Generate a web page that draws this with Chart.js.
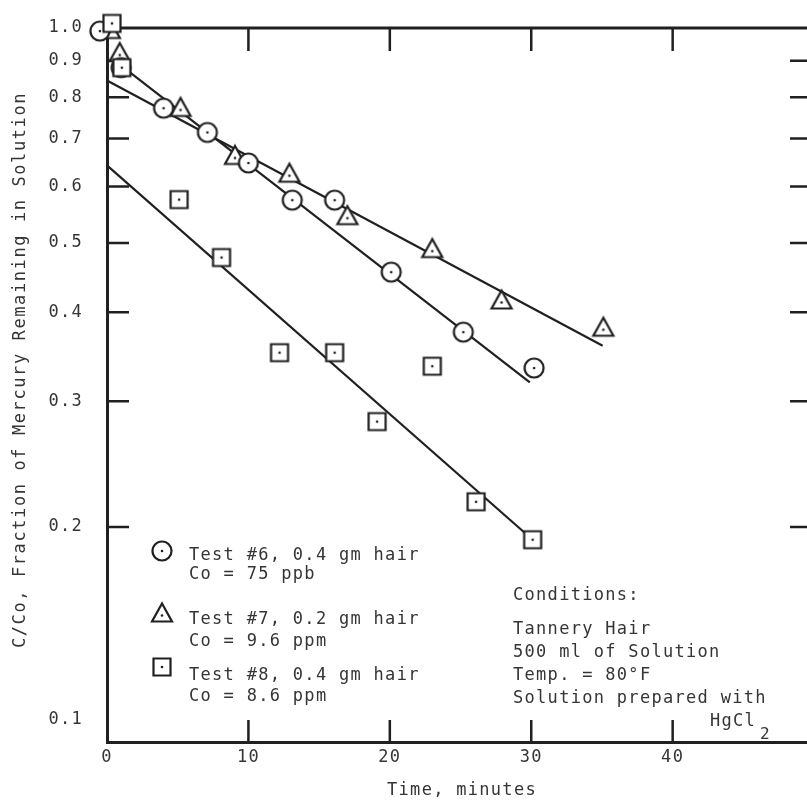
<!DOCTYPE html>
<html>
<head>
<meta charset="utf-8">
<title>Mercury removal by tannery hair</title>
<script src="https://cdn.jsdelivr.net/npm/chart.js@4.4.0/dist/chart.umd.min.js"></script>
<style>
  body { margin: 0; background: #fff; }
  #wrap { width: 807px; height: 800px; }
</style>
</head>
<body>
<div id="wrap"><canvas id="chart" width="807" height="800"></canvas></div>
<script>
// ---- data (time in minutes, C/Co) ----
var test6Time  = [-0.5, 1.0, 4.0, 7.1, 10.0, 13.1, 16.1, 20.1, 25.2, 30.2];
var test6Ratio = [0.99, 0.88, 0.772, 0.714, 0.647, 0.574, 0.574, 0.455, 0.375, 0.334];

var test7Time  = [0.2, 0.9, 5.2, 9.05, 12.9, 17.0, 23.0, 27.9, 35.1];
var test7Ratio = [0.995, 0.924, 0.774, 0.663, 0.626, 0.546, 0.491, 0.416, 0.381];

var test8Time  = [0.35, 1.05, 5.1, 8.1, 12.2, 16.1, 19.1, 23.0, 26.1, 30.1];
var test8Ratio = [1.015, 0.88, 0.575, 0.477, 0.351, 0.351, 0.281, 0.336, 0.217, 0.192];

// fitted straight lines (end points)
var fit6Time  = [0.8, 29.9];
var fit6Ratio = [0.892, 0.319];
var fit7Time  = [0, 35.05];
var fit7Ratio = [0.844, 0.359];
var fit8Time  = [0, 30.1];
var fit8Ratio = [0.642, 0.192];

var xTickValues = [0, 10, 20, 30, 40];
var yTickValues = [0.1, 0.2, 0.3, 0.4, 0.5, 0.6, 0.7, 0.8, 0.9, 1.0];

var legendLines = [
  ['Test #6, 0.4 gm hair', 'Co = 75 ppb'],
  ['Test #7, 0.2 gm hair', 'Co = 9.6 ppm'],
  ['Test #8, 0.4 gm hair', 'Co = 8.6 ppm']
];
var conditionLines = ['Tannery Hair', '500 ml of Solution', 'Temp. = 80\u00B0F', 'Solution prepared with'];

var INK = '#202020';
var TEXT = '#353535';
var FONT = '"DejaVu Sans Mono", monospace';

function pts(xs, ys) {
  return xs.map(function (x, i) { return { x: x, y: ys[i] }; });
}

// marker images: open symbol with a dot in the middle
function makeMarker(kind) {
  var c = document.createElement('canvas');
  c.width = 26; c.height = 26;
  var g = c.getContext('2d');
  g.lineWidth = 2.2;
  g.strokeStyle = INK;
  g.fillStyle = '#fff';
  g.beginPath();
  var dotY = 13;
  if (kind === 'circle') {
    g.arc(13, 13, 9.5, 0, Math.PI * 2);
  } else if (kind === 'triangle') {
    g.moveTo(13, 3.5); g.lineTo(3, 21.5); g.lineTo(23, 21.5); g.closePath();
    dotY = 15.5;
  } else {
    g.rect(4.5, 4.5, 17, 17);
  }
  g.fill();
  g.stroke();
  g.fillStyle = INK;
  g.beginPath();
  g.arc(13, dotY, 1.3, 0, Math.PI * 2);
  g.fill();
  return c;
}
var circleImg = makeMarker('circle');
var triImg = makeMarker('triangle');
var squareImg = makeMarker('square');

var framePlugin = {
  id: 'frame',
  beforeDraw: function (chart) {
    chart.ctx.letterSpacing = '1.3px';
  },
  beforeDatasetsDraw: function (chart) {
    var ctx = chart.ctx, a = chart.chartArea;
    var xs = chart.scales.x, ys = chart.scales.y;
    ctx.save();
    ctx.strokeStyle = INK;
    ctx.lineWidth = 3;
    ctx.beginPath();
    ctx.moveTo(a.left - 1.5, a.top);
    ctx.lineTo(a.right, a.top);
    ctx.stroke();
    ctx.lineWidth = 2.5;
    ctx.beginPath();
    yTickValues.forEach(function (v) {
      if (v <= 0.1 || v >= 1.0) return;
      var py = ys.getPixelForValue(v);
      ctx.moveTo(a.left, py); ctx.lineTo(a.left + 22, py);
      ctx.moveTo(a.right - 17, py); ctx.lineTo(a.right, py);
    });
    xTickValues.forEach(function (v) {
      if (v === 0) return;
      var px = xs.getPixelForValue(v);
      ctx.moveTo(px, a.top); ctx.lineTo(px, a.top + 23);
      ctx.moveTo(px, a.bottom); ctx.lineTo(px, a.bottom - 22);
    });
    ctx.stroke();
    ctx.restore();
  },
  afterDraw: function (chart) {
    var ctx = chart.ctx;
    var ys = chart.scales.y;
    ctx.save();
    ctx.fillStyle = TEXT;
    ctx.font = '17px ' + FONT;
    ctx.letterSpacing = '1.3px';

    // the 0.1 label sits a little above the bottom axis
    ctx.textAlign = 'right';
    ctx.textBaseline = 'middle';
    ctx.fillText('0.1', 83, ys.getPixelForValue(0.1) - 22);

    // legend
    ctx.textAlign = 'left';
    ctx.textBaseline = 'alphabetic';
    var imgs = [circleImg, triImg, squareImg];
    var markY = [551, 613, 667];
    var baseY = [[560, 579], [624, 646], [680, 701]];
    for (var i = 0; i < 3; i++) {
      ctx.drawImage(imgs[i], 162 - 13, markY[i] - 13);
      ctx.fillText(legendLines[i][0], 189, baseY[i][0]);
      ctx.fillText(legendLines[i][1], 189, baseY[i][1]);
    }

    // conditions block
    ctx.fillText('Conditions:', 513, 600);
    var cy = [634, 657, 680, 703];
    conditionLines.forEach(function (t, k) { ctx.fillText(t, 513, cy[k]); });
    ctx.fillText('HgCl', 710, 726);
    ctx.font = '16px ' + FONT;
    ctx.fillText('2', 760, 739);

    // axis titles
    ctx.font = '17px ' + FONT;
    ctx.textAlign = 'center';
    ctx.fillText('Time, minutes', 462, 795);
    ctx.letterSpacing = '1.6px';
    ctx.translate(25, 370);
    ctx.rotate(-Math.PI / 2);
    ctx.fillText('C/Co, Fraction of Mercury Remaining in Solution', 0, 0);
    ctx.restore();
  }
};

function pointSet(label, xs, ys, img) {
  return {
    label: label,
    data: pts(xs, ys),
    showLine: false,
    pointStyle: img,
    pointRadius: 10,
    clip: false
  };
}
function lineSet(label, xs, ys) {
  return {
    label: label,
    data: pts(xs, ys),
    showLine: true,
    borderColor: INK,
    borderWidth: 2.2,
    pointRadius: 0,
    clip: false
  };
}

new Chart(document.getElementById('chart'), {
  type: 'scatter',
  data: {
    datasets: [
      pointSet('Test #8', test8Time, test8Ratio, squareImg),
      pointSet('Test #6', test6Time, test6Ratio, circleImg),
      pointSet('Test #7', test7Time, test7Ratio, triImg),
      lineSet('Fit #6', fit6Time, fit6Ratio),
      lineSet('Fit #7', fit7Time, fit7Ratio),
      lineSet('Fit #8', fit8Time, fit8Ratio)
    ]
  },
  options: {
    responsive: false,
    animation: false,
    devicePixelRatio: 1,
    events: [],
    layout: { autoPadding: false, padding: { top: 28, right: 0, bottom: 0, left: 0 } },
    plugins: { legend: { display: false }, tooltip: { enabled: false } },
    scales: {
      x: {
        type: 'linear',
        min: 0,
        max: 49.5,
        afterBuildTicks: function (s) { s.ticks = xTickValues.map(function (v) { return { value: v }; }); },
        afterFit: function (s) { s.height = 58; s.paddingLeft = 0; s.paddingRight = 0; },
        grid: { display: false, drawTicks: false },
        border: { display: true, color: INK, width: 3 },
        ticks: {
          color: TEXT,
          padding: 5,
          maxRotation: 0,
          font: { family: FONT, size: 17 },
          callback: function (v) { return String(v); }
        }
      },
      y: {
        type: 'logarithmic',
        min: 0.1,
        max: 1.0,
        afterBuildTicks: function (s) { s.ticks = yTickValues.map(function (v) { return { value: v }; }); },
        afterFit: function (s) { s.width = 107; s.paddingTop = 0; s.paddingBottom = 0; },
        grid: { display: false, drawTicks: false },
        border: { display: true, color: INK, width: 3 },
        ticks: {
          color: TEXT,
          padding: 24,
          font: { family: FONT, size: 17 },
          callback: function (v) { return v <= 0.1001 ? '' : Number(v).toFixed(1); }
        }
      }
    }
  },
  plugins: [framePlugin]
});
</script>
</body>
</html>
